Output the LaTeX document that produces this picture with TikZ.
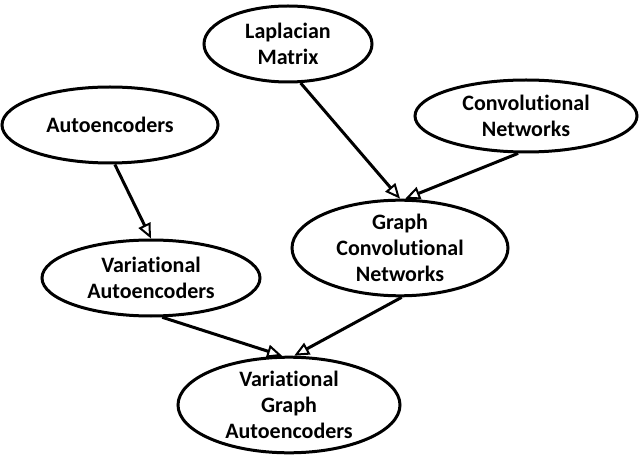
\documentclass[tikz,border=0pt]{standalone}
\usepackage{fontspec}
\setmainfont{Carlito}[Ligatures=NoCommon]
\usetikzlibrary{shapes.geometric,arrows.meta}
\tikzset{
  oval/.style={ellipse, draw=black, line width=3bp, fill=white, inner sep=0pt,
    align=center, font=\fontsize{22bp}{26bp}\selectfont\bfseries},
  link/.style={line width=3bp, -{Triangle[open, length=15bp, width=13bp, line width=2bp]}}
}
\begin{document}
\begin{tikzpicture}[x=1bp, y=-1bp]
\useasboundingbox (0,0) rectangle (640,456);
\node[oval, minimum width=168bp, minimum height=76bp] (lap) at (288,44) {Laplacian\\Matrix};
\node[oval, minimum width=216bp, minimum height=76bp] (ae) at (110,125) {Autoencoders};
\node[oval, minimum width=222bp, minimum height=72bp] (conv) at (526,116) {Convolutional\\Networks};
\node[oval, minimum width=216bp, minimum height=88bp] (gcn) at (400,248) {Graph\\Convolutional\\Networks};
\node[oval, minimum width=218bp, minimum height=76bp] (vae) at (151,278) {Variational\\Autoencoders};
\node[oval, minimum width=222bp, minimum height=94bp] (vgae) at (289,405) {Variational\\Graph\\Autoencoders};
\draw[link] (ae.-83) -- (vae.north);
\draw[link] (lap.-72) -- (gcn.north);
\draw[link] (conv.-102) -- (gcn.84);
\draw[link] (vae.-74) -- (vgae.98);
\draw[link] (gcn.-88) -- (vgae.84);
\end{tikzpicture}
\end{document}
